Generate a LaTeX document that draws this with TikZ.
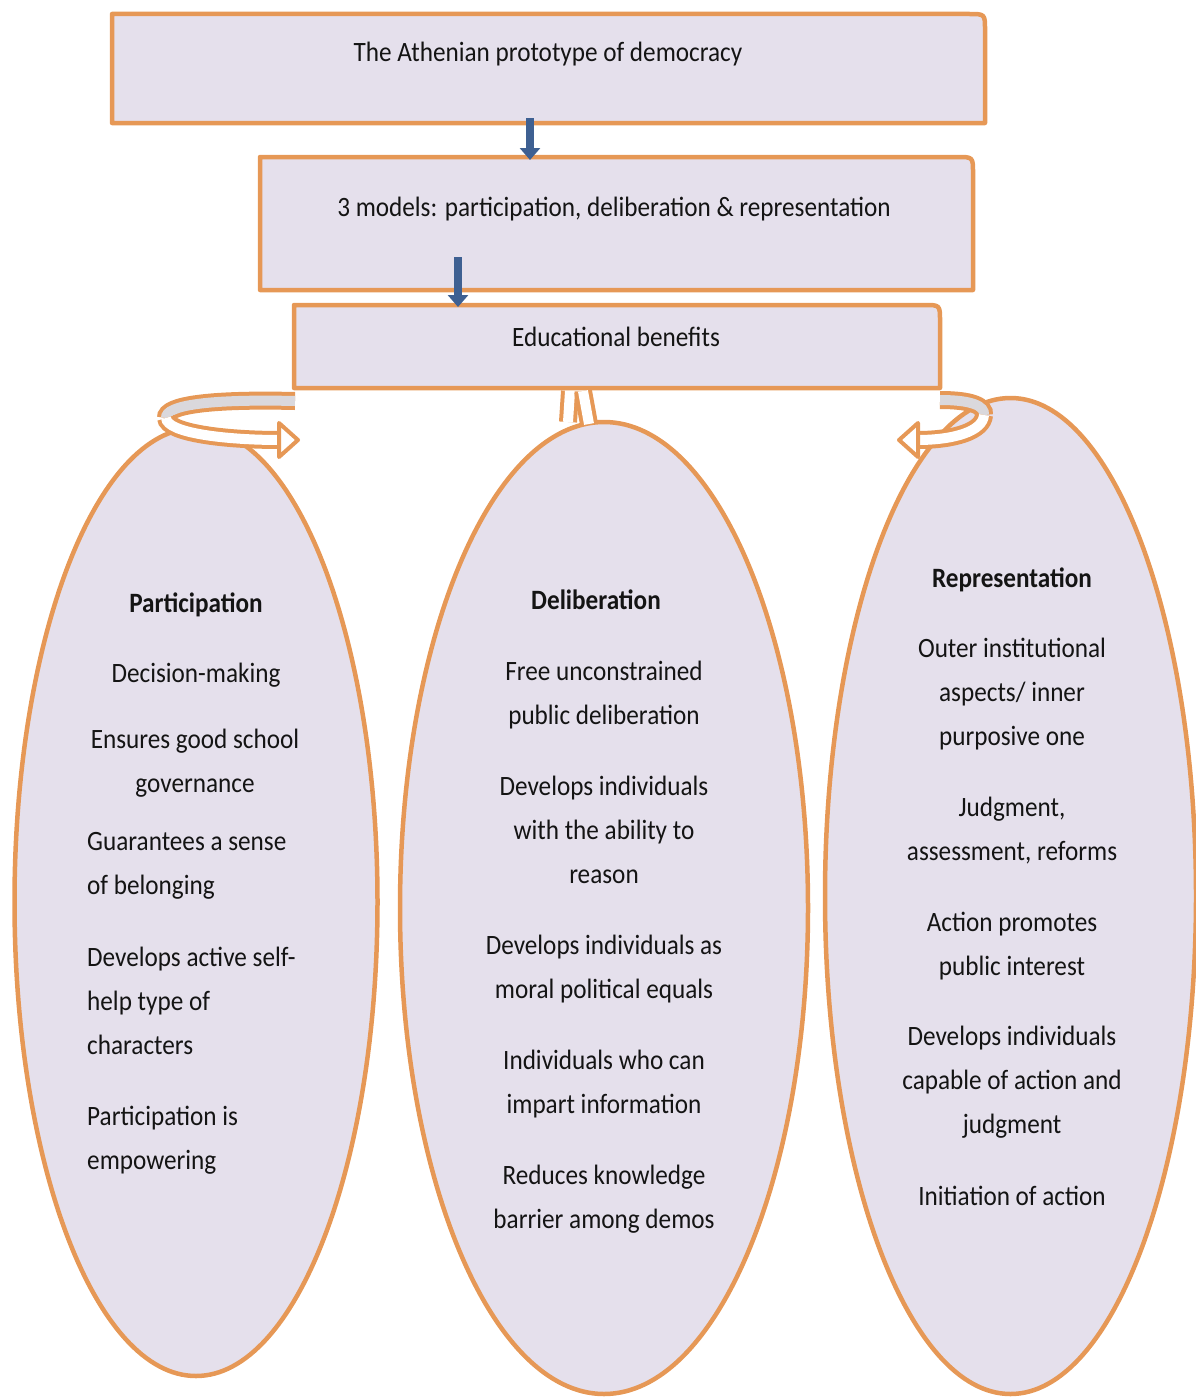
\documentclass[tikz,border=0pt]{standalone}
\usepackage{fontspec}
\setmainfont{Carlito}[FakeStretch=0.9]
\usetikzlibrary{shapes.geometric,arrows.meta,calc}
\definecolor{lav}{RGB}{229,224,236}
\definecolor{orng}{RGB}{230,152,86}
\definecolor{navy}{RGB}{62,96,146}
\definecolor{ink}{RGB}{20,20,20}
\definecolor{ringgrey}{RGB}{218,216,220}
\newcommand{\cornerbox}[1]{%
  \draw[boxline] (#1.south west) -- (#1.north west) -- ($(#1.north east)+(-16,0)$)
    .. controls (#1.north east) .. ($(#1.north east)+(0,16)$) -- (#1.south east) -- cycle;}
\begin{document}
\begin{tikzpicture}[x=1pt, y=-1pt,
  boxnode/.style={draw=none, inner sep=0pt, outer sep=0pt},
  boxline/.style={draw=orng, fill=lav, line width=4.5pt, line join=round},
  egg/.style={ellipse, draw=orng, fill=lav, line width=4.5pt, inner sep=0pt},
  txt/.style={font=\fontsize{28}{44}\selectfont, text=ink, align=center, inner sep=0pt, anchor=north},
  head/.style={txt, font=\fontsize{28}{44}\selectfont\bfseries},
  ltxt/.style={txt, align=left, anchor=north west},
  downarrow/.style={navy, line width=8pt, -{Triangle[width=20pt,length=12pt]}},
  ringback/.style={draw=orng, line width=4pt, double=ringgrey, double distance=10pt},
  ringfront/.style={ringback, double=white},
  ringhead/.style={draw=orng, fill=white, line width=4pt, line join=round}]
\useasboundingbox (0,0) rectangle (1196,1397);

\node[egg, minimum width=363pt, minimum height=948pt] (partell) at (196,902) {};
\node[egg, minimum width=408pt, minimum height=972pt] (delibell) at (604,908) {};
\node[egg, minimum width=371pt, minimum height=996pt] (reprell) at (1010.5,896) {};

\node[boxnode, minimum width=873pt, minimum height=109pt] (athens) at (548.5,68.5) {};
\node[boxnode, minimum width=713pt, minimum height=133pt] (models) at (616.5,223.5) {};
\node[boxnode, minimum width=646pt, minimum height=83pt] (benefits) at (617,346.5) {};
\cornerbox{athens}
\cornerbox{models}
\cornerbox{benefits}

\draw[ringback] (295,401) .. controls (210,399) and (165,405) .. (166,418);
\draw[ringfront] (166,418) .. controls (167,433) and (225,440) .. (280,440);
\draw[ringhead] (279,423) -- (298,440) -- (279,457) -- cycle;
\draw[ringback] (940,400) .. controls (972,400) and (985,406) .. (984,415);
\draw[ringfront] (984,415) .. controls (983,431) and (955,440) .. (917,440);
\draw[ringhead] (918,423) -- (899,440) -- (918,457) -- cycle;
\draw[ringfront] (570,391) -- (568,422);
\draw[ringfront] (583,391) -- (589,424);

\draw[downarrow] ([xshift=-18.5pt,yshift=5pt]athens.south) -- ([xshift=-86.5pt,yshift=-3pt]models.north);
\draw[downarrow] ([xshift=-158.5pt,yshift=33pt]models.south) -- ([xshift=-159pt,yshift=-2pt]benefits.north);

\node[txt] (athenstext) at (548,42) {The Athenian prototype of democracy};
\node[txt] (modelstext) at (614,197) {3 models: participation, deliberation \& representation};
\node[txt] (benefitstext) at (616,327) {Educational benefits};

\node[head] (parthead) at (196,593) {Participation};
\node[txt] (part1) at (196,663) {Decision-making};
\node[txt] (part2) at (195,729) {Ensures good school\\governance};
\node[ltxt] (part3) at (87,832) {Guarantees a sense\\of belonging};
\node[ltxt] (part4) at (87,947) {Develops active self-\\help type of\\characters};
\node[ltxt] (part5) at (87,1106) {Participation is\\empowering};

\node[head] (delibhead) at (596,590) {Deliberation};
\node[txt] (delib1) at (604,661) {Free unconstrained\\public deliberation};
\node[txt] (delib2) at (604,776) {Develops individuals\\with the ability to\\reason};
\node[txt] (delib3) at (604,935) {Develops individuals as\\moral political equals};
\node[txt] (delib4) at (604,1050) {Individuals who can\\impart information};
\node[txt] (delib5) at (604,1165) {Reduces knowledge\\barrier among demos};

\node[head] (reprhead) at (1012,568) {Representation};
\node[txt] (repr1) at (1012,638) {Outer institutional\\aspects/ inner\\purposive one};
\node[txt] (repr2) at (1012,797) {Judgment,\\assessment, reforms};
\node[txt] (repr3) at (1012,912) {Action promotes\\public interest};
\node[txt] (repr4) at (1012,1026) {Develops individuals\\capable of action and\\judgment};
\node[txt] (repr5) at (1012,1186) {Initiation of action};
\end{tikzpicture}
\end{document}
